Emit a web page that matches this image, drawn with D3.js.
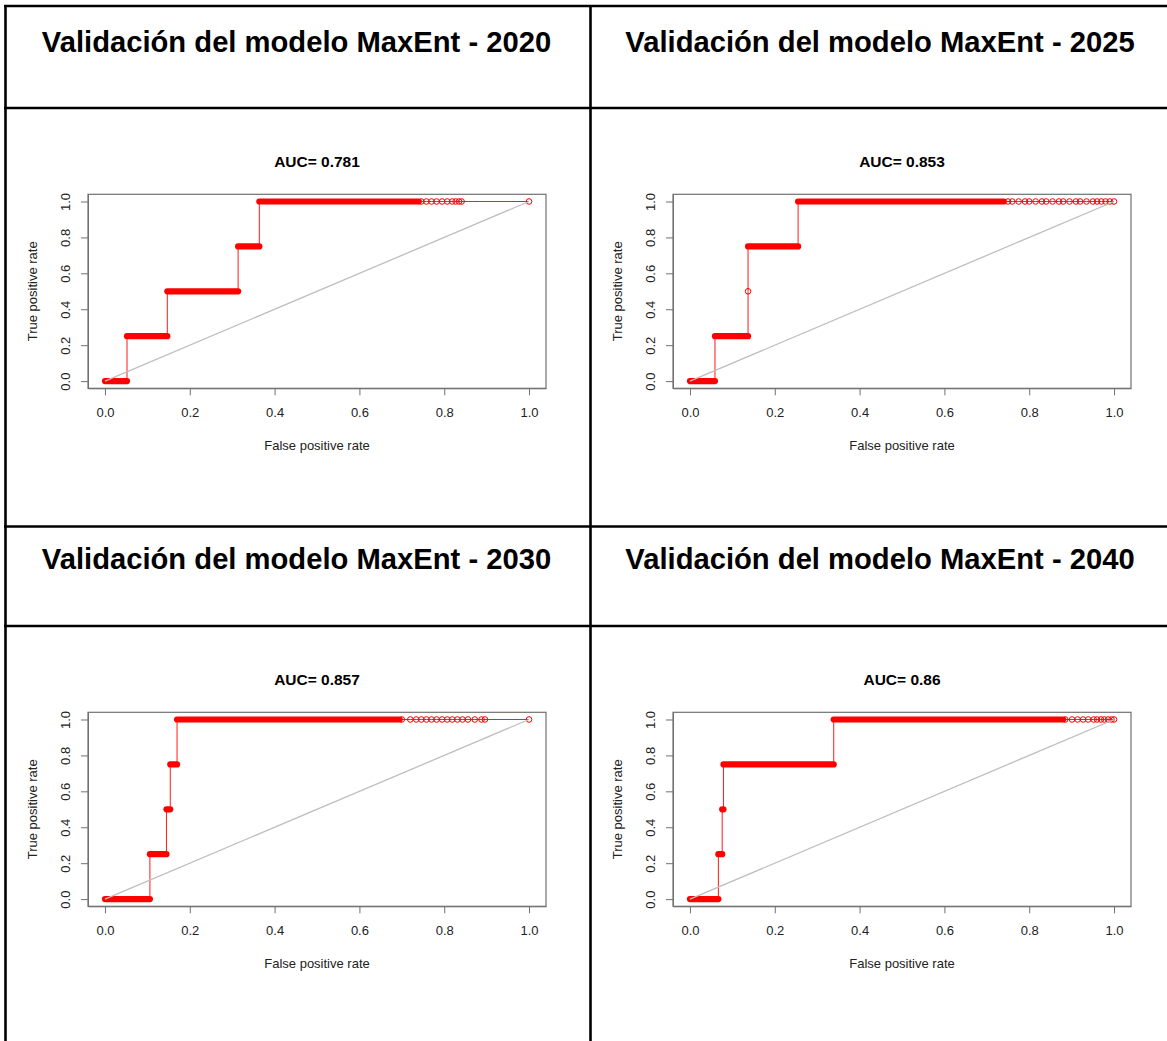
<!DOCTYPE html>
<html>
<head>
<meta charset="utf-8">
<script src="https://cdn.jsdelivr.net/npm/d3@7"></script>
<style>
  body { margin: 0; background: #fff; }
  text { font-family: 'Liberation Sans', Arial, sans-serif; }
</style>
</head>
<body>
<script>
const years = ['2020', '2025', '2030', '2040'];
const aucLabels = ['AUC= 0.781', 'AUC= 0.853', 'AUC= 0.857', 'AUC= 0.86'];
const ticks = [0, 0.2, 0.4, 0.6, 0.8, 1.0];

// horizontal runs of each ROC curve, where the circles are packed solid: [tpr, fpr from, fpr to]
const runs2020 = [[0, 0, 0.052], [0.25, 0.052, 0.147], [0.5, 0.147, 0.314], [0.75, 0.314, 0.364], [1, 0.364, 0.74]];
const runs2025 = [[0, 0, 0.059], [0.25, 0.059, 0.137], [0.5, 0.137, 0.137], [0.75, 0.137, 0.255], [1, 0.255, 0.74]];
const runs2030 = [[0, 0, 0.106], [0.25, 0.106, 0.145], [0.5, 0.145, 0.154], [0.75, 0.154, 0.17], [1, 0.17, 0.695]];
const runs2040 = [[0, 0, 0.067], [0.25, 0.067, 0.076], [0.5, 0.076, 0.079], [0.75, 0.079, 0.339], [1, 0.339, 0.88]];

// loose circles at tpr = 1 after the solid part
const tail2020 = [0.746, 0.758, 0.770, 0.782, 0.795, 0.807, 0.819, 0.827, 0.835, 0.841, 1.0];
const tail2025 = [0.75, 0.76, 0.775, 0.79, 0.80, 0.815, 0.83, 0.84, 0.855, 0.87, 0.88, 0.895, 0.91, 0.92, 0.935, 0.95, 0.96, 0.97, 0.98, 0.99, 1.0];
const tail2030 = [0.70, 0.72, 0.734, 0.746, 0.758, 0.77, 0.782, 0.795, 0.807, 0.819, 0.831, 0.843, 0.856, 0.872, 0.888, 0.896, 1.0];
const tail2040 = [0.885, 0.901, 0.914, 0.927, 0.939, 0.952, 0.96, 0.969, 0.977, 0.986, 0.994, 1.0];

const allRuns = [runs2020, runs2025, runs2030, runs2040];
const allTails = [tail2020, tail2025, tail2030, tail2040];

const W = 1167, H = 1041;
const rowLines = [6, 108, 526.5, 626];
const colLines = [5.5, 590.5, 1172.5];
const boxW = 458, boxH = 194;

const svg = d3.select('body').append('svg')
  .attr('width', W)
  .attr('height', H);

// table grid
svg.selectAll('.hline')
  .data(rowLines)
  .enter()
  .append('line')
    .attr('x1', 4).attr('x2', W + 10)
    .attr('y1', d => d).attr('y2', d => d)
    .attr('stroke', '#000')
    .attr('stroke-width', 2.6);

svg.selectAll('.vline')
  .data(colLines)
  .enter()
  .append('line')
    .attr('x1', d => d).attr('x2', d => d)
    .attr('y1', 5).attr('y2', H + 10)
    .attr('stroke', '#000')
    .attr('stroke-width', 2.6);

const red = '#ff0000';

years.forEach((year, i) => {
  const col = i % 2;
  const row = Math.floor(i / 2);
  const cellL = colLines[col];
  const cellR = colLines[col + 1];

  // header
  svg.append('text')
    .attr('x', (cellL + cellR) / 2 - 1.5)
    .attr('y', row === 0 ? 52 : 568.5)
    .attr('text-anchor', 'middle')
    .attr('font-size', 29.2)
    .attr('font-weight', 'bold')
    .attr('fill', '#000')
    .text(`Validación del modelo MaxEnt - ${year}`);

  const g = svg.append('g')
    .attr('transform', `translate(${cellL + 82.5}, ${rowLines[row * 2 + 1] + 86.3})`);

  const x = d3.scaleLinear().domain([-0.04, 1.04]).range([0, boxW]);
  const y = d3.scaleLinear().domain([-0.04, 1.04]).range([boxH, 0]);

  // axes
  const xAxis = d3.axisBottom(x).tickValues(ticks).tickSize(7).tickSizeOuter(0)
    .tickPadding(12).tickFormat(d3.format('.1f'));
  const yAxis = d3.axisLeft(y).tickValues(ticks).tickSize(7).tickSizeOuter(0)
    .tickFormat(d3.format('.1f'));

  const gx = g.append('g').attr('transform', `translate(0, ${boxH})`).call(xAxis);
  const gy = g.append('g').call(yAxis);

  [gx, gy].forEach(a => {
    a.select('.domain').attr('stroke', '#707070');
    a.selectAll('.tick line').attr('stroke', '#707070');
    a.selectAll('text')
      .attr('font-size', 13)
      .attr('fill', '#222')
      .style('font-family', "'Liberation Sans', Arial, sans-serif");
  });

  gy.selectAll('.tick text')
    .attr('x', 0)
    .attr('dy', null)
    .attr('text-anchor', 'middle')
    .attr('transform', 'translate(-18.5, 0) rotate(-90)');

  // box
  g.append('rect')
    .attr('width', boxW)
    .attr('height', boxH)
    .attr('fill', 'none')
    .attr('stroke', '#707070')
    .attr('stroke-width', 1.2);

  // titles
  g.append('text')
    .attr('x', boxW / 2)
    .attr('y', -27)
    .attr('text-anchor', 'middle')
    .attr('font-size', 15.5)
    .attr('font-weight', 'bold')
    .text(aucLabels[i]);

  g.append('text')
    .attr('x', boxW / 2)
    .attr('y', boxH + 61.5)
    .attr('text-anchor', 'middle')
    .attr('font-size', 13)
    .attr('fill', '#222')
    .text('False positive rate');

  g.append('text')
    .attr('transform', `translate(-51.5, ${boxH / 2}) rotate(-90)`)
    .attr('text-anchor', 'middle')
    .attr('font-size', 13)
    .attr('fill', '#222')
    .text('True positive rate');

  // ROC curve
  const runs = allRuns[i];
  const tail = allTails[i];
  const pts = runs.flatMap(r => [[r[1], r[0]], [r[2], r[0]]])
    .concat(tail.map(f => [f, 1]));

  g.append('path')
    .datum(pts)
    .attr('d', d3.line().x(d => x(d[0])).y(d => y(d[1])))
    .attr('fill', 'none')
    .attr('stroke', red)
    .attr('stroke-opacity', 0.9)
    .attr('stroke-width', 1);

  g.selectAll('.run')
    .data(runs.filter(r => r[2] > r[1]))
    .enter()
    .append('line')
      .attr('x1', d => x(d[1]))
      .attr('x2', d => x(d[2]))
      .attr('y1', d => y(d[0]))
      .attr('y2', d => y(d[0]))
      .attr('stroke', red)
      .attr('stroke-width', 6.2)
      .attr('stroke-linecap', 'round');

  const single = runs.filter(r => r[2] === r[1]).map(r => [r[1], r[0]]);
  g.selectAll('.pt')
    .data(single.concat(tail.map(f => [f, 1])))
    .enter()
    .append('circle')
      .attr('cx', d => x(d[0]))
      .attr('cy', d => y(d[1]))
      .attr('r', 2.8)
      .attr('fill', 'none')
      .attr('stroke', red)
      .attr('stroke-width', 1);

  // chance line
  g.append('line')
    .attr('x1', x(0)).attr('y1', y(0))
    .attr('x2', x(1)).attr('y2', y(1))
    .attr('stroke', '#bebebe')
    .attr('stroke-width', 1.3);
});
</script>
</body>
</html>
